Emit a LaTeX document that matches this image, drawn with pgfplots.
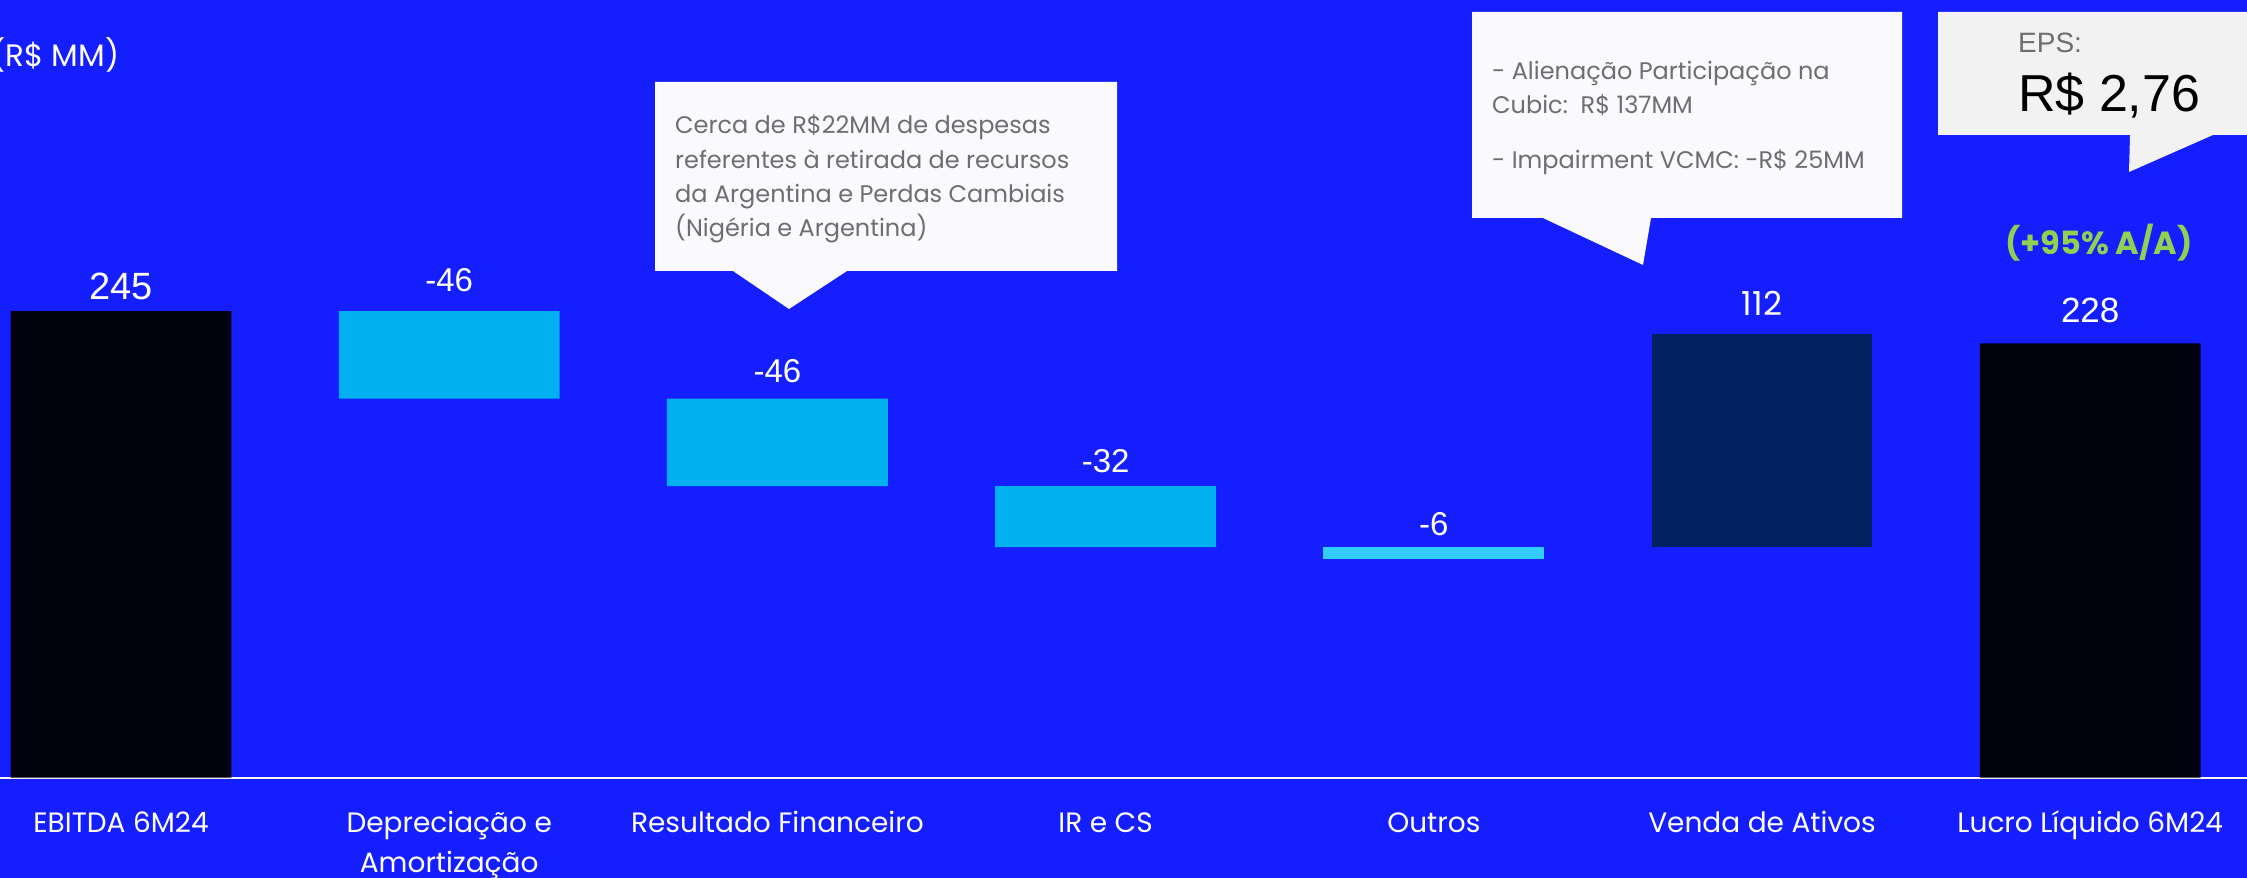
\documentclass[border=0pt]{standalone}
\usepackage{fontspec}
\setmainfont{Poppins}
\newfontfamily\arial{Liberation Sans}
\usepackage{pgfplots}
\pgfplotsset{compat=1.18}

\definecolor{bg}{RGB}{20,30,255}
\definecolor{barblack}{RGB}{2,2,14}
\definecolor{barcyan}{RGB}{0,176,240}
\definecolor{barlight}{RGB}{51,204,255}
\definecolor{barnavy}{RGB}{0,32,96}
\definecolor{notefill}{RGB}{250,249,254}
\definecolor{epsfill}{RGB}{242,242,242}
\definecolor{notetext}{RGB}{110,110,110}
\definecolor{yoy}{RGB}{146,208,80}

\pgfdeclarelayer{bgl}
\pgfsetlayers{bgl,main}

\pgfplotsset{frame/.style={at={(0,0)},anchor=origin,scale only axis,width=2247pt,height=777.5pt,
  xmin=-0.3687,xmax=6.4778,ymin=0,ymax=408.4,enlargelimits=false,clip=false}}

\begin{document}
\begin{tikzpicture}

\begin{axis}[frame,
  ybar stacked,bar width=0.673,
  axis x line*=bottom,axis y line=none,
  x axis line style={draw=white!92!gray,line width=2pt,-},
  xtick={0,...,6},major tick length=0pt,ytick=\empty,
  xticklabels={EBITDA 6M24,{\begin{tabular}[t]{@{}c@{}}Depreciação e\\Amortização\end{tabular}},Resultado Financeiro,IR e CS,Outros,Venda de Ativos,Lucro Líquido 6M24},
  xticklabel style={font=\fontsize{28}{40}\selectfont,text=white,anchor=base,inner sep=0pt,yshift=-54.5pt}]
  % invisible base of the floating bars
  \addplot[fill=none,draw=none] coordinates {(0,0) (1,199) (2,153) (3,121) (4,115) (5,121) (6,0)};
  \addplot[fill=barblack,draw=none] coordinates {(0,245) (1,0) (2,0) (3,0) (4,0) (5,0) (6,228)};
  \addplot[fill=barcyan,draw=none] coordinates {(0,0) (1,46) (2,46) (3,32) (4,0) (5,0) (6,0)};
  \addplot[fill=barlight,draw=none] coordinates {(0,0) (1,0) (2,0) (3,0) (4,6) (5,0) (6,0)};
  \addplot[fill=barnavy,draw=none] coordinates {(0,0) (1,0) (2,0) (3,0) (4,0) (5,112) (6,0)};
  \coordinate (BL) at (rel axis cs:0,0);
\end{axis}

% value labels, at the top of each bar
\begin{axis}[frame,hide axis]
  \addplot[draw=none,mark=none,nodes near coords,point meta=explicit symbolic,
    nodes near coords style={anchor=base,inner sep=0pt,yshift=16pt,text=white,font=\arial\fontsize{33}{36}\selectfont}]
    coordinates {(0,245)[{\fontsize{38}{40}\selectfont\raisebox{-4pt}{245}}] (1,245)[\raisebox{4pt}{-46}] (2,199)[-46]
                 (3,153)[\raisebox{-2pt}{-32}] (4,121)[\raisebox{-4pt}{-6}] (5,233)[{\rmfamily\raisebox{2pt}{112}}]
                 (6,228)[{\fontsize{35}{38}\selectfont\raisebox{5pt}{228}}]};
\end{axis}

% page = image pixels, origin at bottom left
\begin{scope}[shift={([yshift=-100.5pt]BL)},x=1pt,y=1pt]
\begin{pgfonlayer}{bgl}
  \fill[bg] (0,0) rectangle (2247,878);
\end{pgfonlayer}

\node[anchor=base west,inner sep=0pt,text=white,font=\fontsize{31}{36}\selectfont] at (-9,811) {(R\$ MM)};

% callout: resultado financeiro
\fill[notefill] (655,796) -- (1117,796) -- (1117,607) -- (847,607) -- (789,569) -- (733,607) -- (655,607) -- cycle;
\begin{scope}[every node/.style={anchor=base west,inner sep=0pt,text=notetext,font=\fontsize{24}{30}\selectfont}]
  \node at (675,744) {Cerca de R\$22MM de despesas};
  \node at (675,709) {referentes à retirada de recursos};
  \node at (675,675) {da Argentina e Perdas Cambiais};
  \node at (675,641) {(Nigéria e Argentina)};
\end{scope}

% callout: venda de ativos
\fill[notefill] (1472,866) -- (1902,866) -- (1902,660) -- (1651,660) -- (1643,613) -- (1543,660) -- (1472,660) -- cycle;
\begin{scope}[every node/.style={anchor=base west,inner sep=0pt,text=notetext,font=\fontsize{24}{30}\selectfont}]
  \node at (1492,798) {- Alienação Participação na};
  \node at (1492,764) {Cubic:\ \ R\$ 137MM};
  \node at (1492,709) {- Impairment VCMC: -R\$ 25MM};
\end{scope}

% callout: EPS
\fill[epsfill] (1938,866) -- (2260,866) -- (2260,743) -- (2213,743) -- (2129,706) -- (2130,743) -- (1938,743) -- cycle;
\node[anchor=base west,inner sep=0pt,text=notetext,font=\arial\fontsize{28}{30}\selectfont] at (2018,825) {EPS:};
\node[anchor=base west,inner sep=0pt,text=black,font=\arial\fontsize{52}{54}\selectfont] at (2018,766) {R\$ 2,76};

\node[anchor=base,inner sep=0pt,text=yoy,font=\bfseries\fontsize{32}{36}\selectfont] at (2099,623) {(+95\% A/A)};
\end{scope}

\pgfresetboundingbox
\path[use as bounding box] ([yshift=-100.5pt]BL) rectangle ([xshift=2247pt,yshift=777.5pt]BL);
\end{tikzpicture}
\end{document}
